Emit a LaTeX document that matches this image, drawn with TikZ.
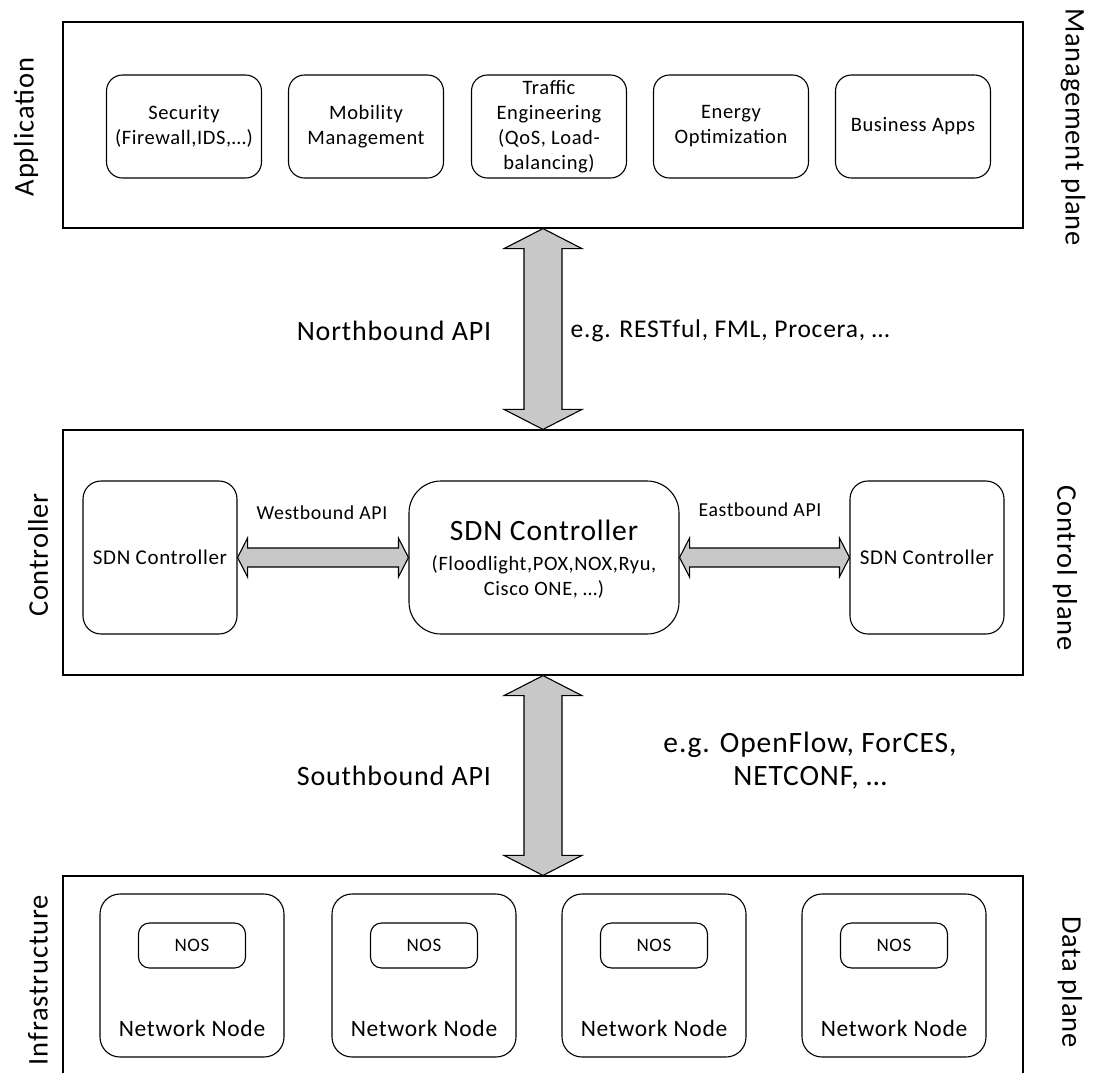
\documentclass[tikz,border=0pt]{standalone}
\usepackage{fontspec}
\setmainfont{Carlito}[LetterSpace=3]
\usetikzlibrary{calc}
\definecolor{arrowfill}{RGB}{200,200,200}
\tikzset{
  layerbox/.style={draw, line width=1.2pt, minimum width=960, minimum height=#1, inner sep=0},
  appbox/.style={draw, line width=1.1pt, rounded corners=16, minimum width=155, minimum height=103,
    inner sep=0, align=center, font=\fontsize{20.5}{25}\selectfont},
  ctlbox/.style={draw, line width=1.1pt, rounded corners=18, minimum width=154, minimum height=153,
    inner sep=0, align=center, font=\fontsize{21}{24}\selectfont},
  mainctl/.style={draw, line width=1.1pt, rounded corners=32, minimum width=270, minimum height=153, inner sep=0},
  netnode/.style={draw, line width=1.1pt, rounded corners=20, minimum width=184, minimum height=163, inner sep=0},
  nosbox/.style={draw, line width=1.1pt, rounded corners=11, minimum width=107, minimum height=45,
    inner sep=0, font=\fontsize{19}{20}\selectfont},
  nntext/.style={inner sep=0, font=\fontsize{23.5}{28}\selectfont},
  biglabel/.style={inner sep=0, font=\fontsize{28}{32}\selectfont},
  eglabel/.style={inner sep=0, align=center, font=\fontsize{25.5}{33}\selectfont},
  eglabelb/.style={inner sep=0, align=center, font=\fontsize{29.5}{33}\selectfont},
  apilabel/.style={inner sep=0, font=\fontsize{19.8}{24}\selectfont},
  sidelabel/.style={inner sep=0, font=\fontsize{28.5}{30}\selectfont},
  blockarrow/.style={draw, fill=arrowfill, line width=1.1pt, line join=miter},
}
% double block arrow, vertical: #1 upper tip, #2 lower tip
\newcommand\vdarrow[2]{%
  \draw[blockarrow] (#1) -- ++(39,20) -- ++(-20,0) -- ($(#2)+(19,-20)$) -- ++(20,0) -- (#2)
    -- ++(-39,-20) -- ++(20,0) -- ($(#1)+(-19,20)$) -- ++(-20,0) -- cycle;}
% double block arrow, horizontal: #1 left tip, #2 right tip
\newcommand\hdarrow[2]{%
  \draw[blockarrow] (#1) -- ++(10,-19.5) -- ++(0,10) -- ($(#2)+(-10,-9.5)$) -- ++(0,-10) -- (#2)
    -- ++(-10,19.5) -- ++(0,-10) -- ($(#1)+(10,9.5)$) -- ++(0,10) -- cycle;}
\begin{document}
\begin{tikzpicture}[x=1pt,y=-1pt]
\useasboundingbox (0,0) rectangle (1096,1072);
\clip (0,0) rectangle (1096,1072);

% the three layers
\node[layerbox=206] (appl) at (543,125) {};
\node[layerbox=245] (ctrl) at (543,552.5) {};
\node[layerbox=214] (infra) at (543,983) {};

% application layer
\node[appbox] (sec) at (184,126.5) {Security\\(Firewall,IDS,…)};
\node[appbox] (mob) at (366,126.5) {Mobility\\Management};
\node[appbox] (te)  at (549,126.5) {Traffic\\Engineering\\(QoS, Load-\\balancing)};
\node[appbox] (eo)  at (731,126.5) {Energy\\Optimization};
\node[appbox] (biz) at (913,126.5) {Business Apps};

% control layer
\node[ctlbox] (ctlL) at (160,557.5) {SDN Controller};
\node[mainctl] (ctlM) at (544,557.5) {};
\node[ctlbox] (ctlR) at (927,557.5) {SDN Controller};
\node[inner sep=0, font=\fontsize{29.5}{30}\selectfont] (ctlMt) at (544,530) {SDN Controller};
\node[inner sep=0, align=center, font=\fontsize{20.4}{25}\selectfont] (ctlMl) at (544,577) {(Floodlight,POX,NOX,Ryu,\\Cisco ONE, …)};

\hdarrow{ctlL.east}{ctlM.west}
\hdarrow{ctlM.east}{ctlR.west}
\node[apilabel] (west) at (322,513) {Westbound API};
\node[apilabel] (east) at (760,510) {Eastbound API};

% infrastructure layer
\foreach \i/\x in {1/192,2/424,3/654,4/894}{
  \node[netnode] (nn\i) at (\x,975.5) {};
  \node[nosbox] (nos\i) at (\x,945.5) {NOS};
  \node[nntext] (nnt\i) at ($(nn\i.south)+(0,-29)$) {Network Node};
}

% northbound and southbound interfaces
\vdarrow{appl.south}{ctrl.north}
\vdarrow{ctrl.south}{infra.north}
\node[biglabel] (nbl) at (394,331) {Northbound API};
\node[eglabel] (nbe) at (730,331) {e.g. RESTful, FML, Procera, …};
\node[biglabel] (sbl) at (394,776) {Southbound API};
\node[eglabelb] (sbe) at (810,761) {e.g. OpenFlow, ForCES,\\NETCONF, …};

% layer names
\node[sidelabel, rotate=90] (lapp) at (26,127) {Application};
\node[sidelabel, rotate=90] (lctl) at (38,555) {Controller};
\node[sidelabel, rotate=90] (linf) at (38,980) {Infrastructure};
\node[sidelabel, rotate=-90] (rmgmt) at (1073,127) {Management plane};
\node[sidelabel, rotate=-90] (rctl) at (1065,568) {Control plane};
\node[sidelabel, rotate=-90] (rdata) at (1070,982) {Data plane};
\end{tikzpicture}
\end{document}
